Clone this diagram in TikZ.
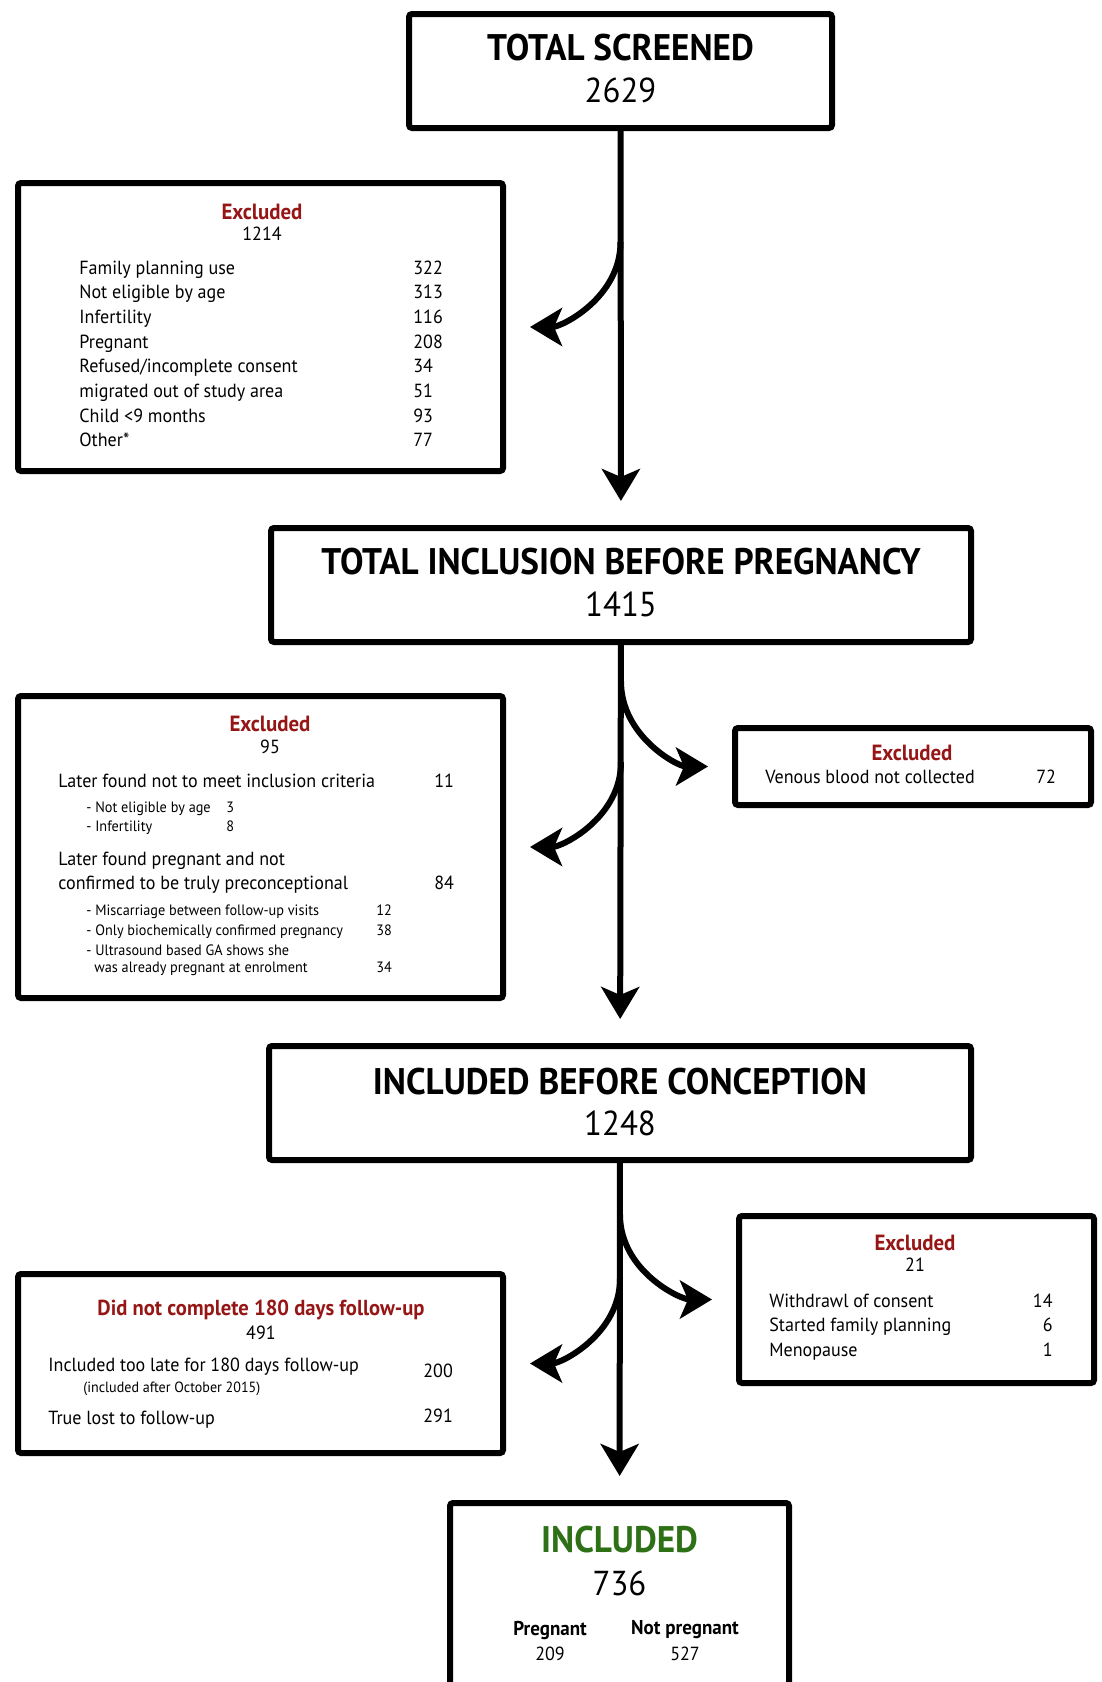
\documentclass[tikz,border=0pt]{standalone}
\usepackage{fontspec}
\setmainfont{PT Sans}[FakeStretch=0.95]
\usetikzlibrary{arrows.meta,calc,positioning}

\definecolor{exred}{RGB}{150,22,22}
\definecolor{okgreen}{RGB}{45,112,22}

\tikzset{
  mainbox/.style={draw,line width=3pt,rounded corners=1.5pt,inner sep=0pt},
  sidebox/.style={draw,line width=3pt,rounded corners=1.5pt,inner sep=0pt},
  flow/.style={line width=3pt,shorten >=12pt,-{Stealth[length=16pt,width=19pt,inset=4pt]}},
  boxtitle/.style={inner sep=0pt,font=\fontsize{18.5}{21}\selectfont\bfseries},
  boxnum/.style={inner sep=0pt,font=\fontsize{17.3}{20}\selectfont},
  exhead/.style={inner sep=0pt,text=exred,font=\fontsize{11}{13}\selectfont\bfseries},
  exnum/.style={inner sep=0pt,font=\fontsize{9.5}{11}\selectfont},
  row/.style={inner sep=0pt,anchor=mid west,font=\fontsize{9.5}{12}\selectfont},
  subrow/.style={inner sep=0pt,anchor=mid west,font=\fontsize{7.5}{9}\selectfont},
  rowr/.style={row,anchor=mid east},
}

\begin{document}
\begin{tikzpicture}[x=0.5pt,y=-0.5pt]
    \useasboundingbox (0,0) rectangle (1102,1682);
    \clip (0,0) rectangle (1102,1682);
    \def\drop{85}

    % Total screened
    \node[mainbox,minimum width=211.5pt,minimum height=57pt] (screened) at (620.5,71) {};
    \node[boxtitle] (screened-t) at (620.5,48) {TOTAL SCREENED};
    \node[boxnum] (screened-n) at (620.5,90) {2629};

    % Excluded at screening
    \node[sidebox,minimum width=242.5pt,minimum height=144pt] (exclA) at (260.5,327) {};
    \node[exhead] (exclA-h) at (262,212) {Excluded};
    \node[exnum] (exclA-n) at (262,234) {1214};
    \foreach \lbl/\val [count=\i from 0] in {Family planning use/322, Not eligible by age/313,
        Infertility/116, Pregnant/208, {Refused/incomplete consent}/34,
        migrated out of study area/51, Child <9 months/93, Other*/77}{
      \node[row] (exclA-l\i) at (79,269+24.7*\i) {\lbl};
      \node[row] (exclA-v\i) at (413,269+24.7*\i) {\val};
    }

    % Total inclusion before pregnancy
    \node[mainbox,minimum width=350pt,minimum height=57pt] (inclpre) at (621,585) {};
    \node[boxtitle] (inclpre-t) at (621,562) {TOTAL INCLUSION BEFORE PREGNANCY};
    \node[boxnum] (inclpre-n) at (621,604) {1415};

    % Excluded after inclusion
    \node[sidebox,minimum width=242.5pt,minimum height=151pt] (exclB) at (260.5,847) {};
    \node[exhead] (exclB-h) at (270,724) {Excluded};
    \node[exnum] (exclB-n) at (270,747) {95};
    \node[row] (exclB-a) at (58,782) {Later found not to meet inclusion criteria};
    \node[row] (exclB-av) at (434,782) {11};
    \node[subrow] (exclB-a1) at (86,807) {- Not eligible by age};
    \node[subrow] (exclB-a1v) at (226,807) {3};
    \node[subrow] (exclB-a2) at (86,826) {- Infertility};
    \node[subrow] (exclB-a2v) at (226,826) {8};
    \node[row] (exclB-b) at (58,860) {Later found pregnant and not};
    \node[row] (exclB-b2) at (58,884) {confirmed to be truly preconceptional};
    \node[row] (exclB-bv) at (434,884) {84};
    \node[subrow] (exclB-b1) at (86,910) {- Miscarriage between follow-up visits};
    \node[subrow] (exclB-b1v) at (376,910) {12};
    \node[subrow] (exclB-b3) at (86,930) {- Only biochemically confirmed pregnancy};
    \node[subrow] (exclB-b3v) at (376,930) {38};
    \node[subrow] (exclB-b4) at (86,950) {- Ultrasound based GA shows she};
    \node[subrow] (exclB-b5) at (94,967) {was already pregnant at enrolment};
    \node[subrow] (exclB-b5v) at (376,967) {34};

    % Venous blood
    \node[sidebox,minimum width=178pt,minimum height=38.5pt] (venous) at (913,766.5) {};
    \node[exhead] (venous-h) at (912,753) {Excluded};
    \node[row] (venous-l) at (765,778) {Venous blood not collected};
    \node[row] (venous-v) at (1036,778) {72};

    % Included before conception
    \node[mainbox,minimum width=351pt,minimum height=57pt] (inclcon) at (620,1103) {};
    \node[boxtitle] (inclcon-t) at (620,1082) {INCLUDED BEFORE CONCEPTION};
    \node[boxnum] (inclcon-n) at (620,1123) {1248};

    % Follow-up not completed
    \node[sidebox,minimum width=242.5pt,minimum height=89.5pt] (followup) at (260.5,1363.5) {};
    \node[exhead,font=\fontsize{10.85}{13}\selectfont\bfseries] (followup-h) at (261,1310) {Did not complete 180 days follow-up};
    \node[exnum] (followup-n) at (261,1333) {491};
    \node[row] (followup-a) at (48,1366) {Included too late for 180 days follow-up};
    \node[subrow,font=\fontsize{7.4}{9}\selectfont] (followup-a2) at (83,1387) {(included after October 2015)};
    \node[row] (followup-av) at (423,1372) {200};
    \node[row] (followup-b) at (48,1419) {True lost to follow-up};
    \node[row] (followup-bv) at (423,1417) {291};

    % Excluded during follow-up
    \node[sidebox,minimum width=177.5pt,minimum height=83.5pt] (exclC) at (916.5,1299.5) {};
    \node[exhead] (exclC-h) at (915,1243) {Excluded};
    \node[exnum] (exclC-n) at (915,1265) {21};
    \foreach \lbl/\val [count=\i from 0] in {Withdrawl of consent/14, Started family planning/6, Menopause/1}{
      \node[row] (exclC-l\i) at (769,1302+24.5*\i) {\lbl};
      \node[rowr] (exclC-v\i) at (1053,1302+24.5*\i) {\val};
    }

    % Included
    \node[mainbox,minimum width=169.5pt,minimum height=108.5pt] (included) at (619.5,1611.5) {};
    \node[boxtitle,text=okgreen] (included-t) at (619.5,1540) {INCLUDED};
    \node[boxnum] (included-n) at (619.5,1583) {736};
    \node[exhead,text=black,font=\fontsize{10}{12}\selectfont\bfseries] (preg) at (550,1630) {Pregnant};
    \node[exnum] (preg-n) at (550,1654) {209};
    \node[exhead,text=black,font=\fontsize{10}{12}\selectfont\bfseries] (notpreg) at (685,1630) {Not pregnant};
    \node[exnum] (notpreg-n) at (685,1654) {527};

    % Flow lines
    \draw[flow] (screened) -- (inclpre);
    \draw[flow] (inclpre) -- (inclcon);
    \draw[flow] (inclcon) -- (included);

    % Side branches
    \coordinate (tapA) at ($(screened.south |- exclA.east)+(0,-\drop)$);
    \coordinate (tapV) at ($(inclpre.south |- venous.west)+(0,-\drop)$);
    \coordinate (tapB) at ($(inclpre.south |- exclB.east)+(0,-\drop)$);
    \coordinate (tapC) at ($(inclcon.south |- exclC.west)+(0,-\drop)$);
    \coordinate (tapF) at ($(inclcon.south |- followup.east)+(0,-\drop)$);
    \draw[flow] (tapA) to[out=-90,in=0] (exclA.east);
    \draw[flow] (tapV) to[out=-90,in=180] (venous.west);
    \draw[flow] (tapB) to[out=-90,in=0] (exclB.east);
    \draw[flow] (tapC) to[out=-90,in=180] (exclC.west);
    \draw[flow] (tapF) to[out=-90,in=0] (followup.east);
\end{tikzpicture}
\end{document}
